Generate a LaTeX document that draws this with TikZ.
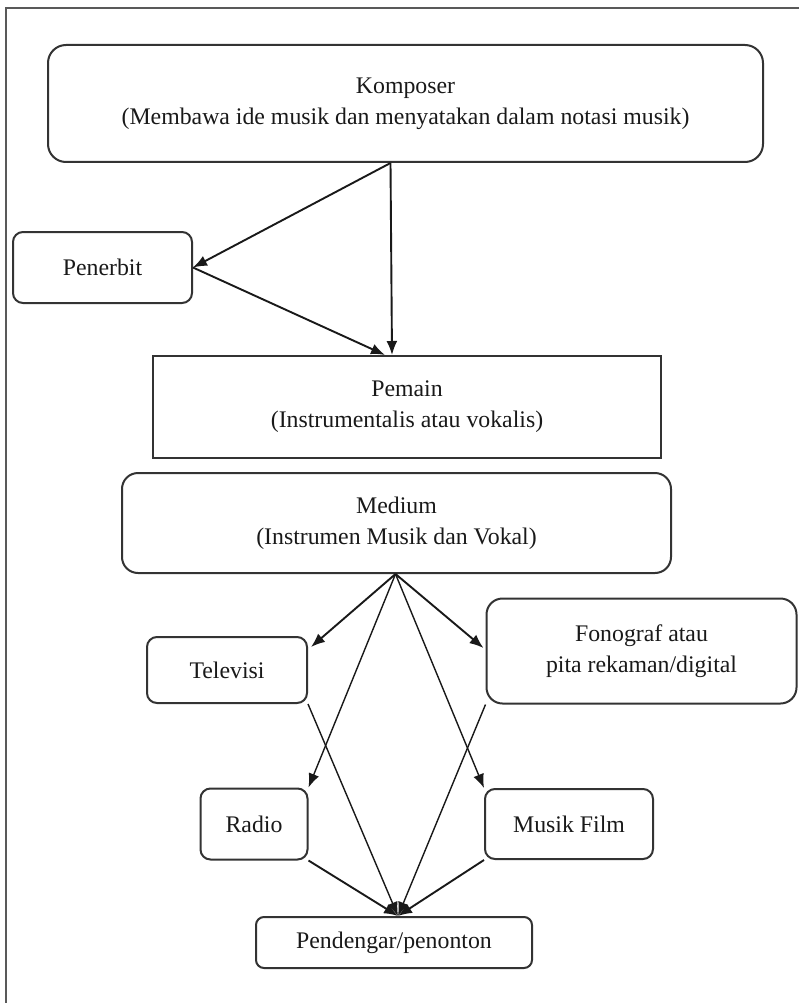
\documentclass[tikz,border=0pt]{standalone}
\usepackage{fontspec}
\setmainfont{Liberation Serif}
\usetikzlibrary{arrows.meta,calc}
\begin{document}
\begin{tikzpicture}[x=1pt,y=-1pt,
  lbl/.style={font=\fontsize{23.8}{31}\selectfont, text=black!90, align=center, inner sep=0pt},
  rbox/.style={lbl, draw=black!80, line width=2pt, rounded corners=#1},
  rbox/.default=11pt,
  sbox/.style={lbl, draw=black!80, line width=2pt},
  arr/.style={-{Latex[length=14pt,width=11pt]}, line width=1.9pt, draw=black!90},
  thin/.style={-{Latex[length=14pt,width=11pt]}, line width=1.4pt, draw=black!90},
  frame/.style={draw=black!65, line width=1.5pt}]
\useasboundingbox (0,0) rectangle (799,1003);
\draw[frame] (6,1003) -- (6,8) -- (799,8);

\node[rbox=18pt, minimum width=715pt, minimum height=117pt] (komp) at (405.5,103.5)
  {Komposer\\(Membawa ide musik dan menyatakan dalam notasi musik)};
\node[rbox=10pt, minimum width=179pt, minimum height=71pt] (pen) at (102.5,267.5) {Penerbit};
\node[sbox, minimum width=508pt, minimum height=102pt] (pemain) at (407,407)
  {Pemain\\(Instrumentalis atau vokalis)};
\node[rbox=16pt, minimum width=549pt, minimum height=100pt] (medium) at (396.5,523)
  {Medium\\(Instrumen Musik dan Vokal)};
\node[rbox=10pt, minimum width=160pt, minimum height=66pt] (tv) at (227,670) {Televisi};
\node[rbox=16pt, minimum width=310pt, minimum height=105pt] (fono) at (641.5,651)
  {Fonograf atau\\pita rekaman/digital};
\node[rbox=10pt, minimum width=107pt, minimum height=71pt] (radio) at (254,824) {Radio};
\node[rbox=10pt, minimum width=168pt, minimum height=70pt] (film) at (569,824) {Musik Film};
\node[rbox=8pt, minimum width=276pt, minimum height=51pt] (pend) at (394,942.5) {Pendengar/penonton};

\coordinate (kout) at ($(komp.south)+(-15,0)$);
\coordinate (pin) at ($(pemain.north)+(-15,0)$);
\coordinate (pin2) at ($(pemain.north)+(-22,0)$);
\coordinate (mout) at ($(medium.south)+(-1,0)$);
\coordinate (tvin) at ($(tv.north east)+(3,11)$);
\coordinate (fonoin) at ($(fono.west)+(-2,-3)$);
\coordinate (pendin) at ($(pend.north)+(4,0)$);

\draw[arr] (kout) -- (pen.east);
\draw[arr] (kout) -- (pin);
\draw[arr] (pen.east) -- (pin2);

\draw[arr] (mout) -- (tvin);
\draw[arr] (mout) -- (fonoin);
\draw[thin] (mout) -- (radio.north east);
\draw[thin] (mout) -- (film.north west);

\draw[thin] (tv.south east) -- (pendin);
\draw[thin] (fono.south west) -- (pendin);
\draw[arr] (radio.south east) -- (pendin);
\draw[arr] (film.south west) -- (pendin);
\end{tikzpicture}
\end{document}
